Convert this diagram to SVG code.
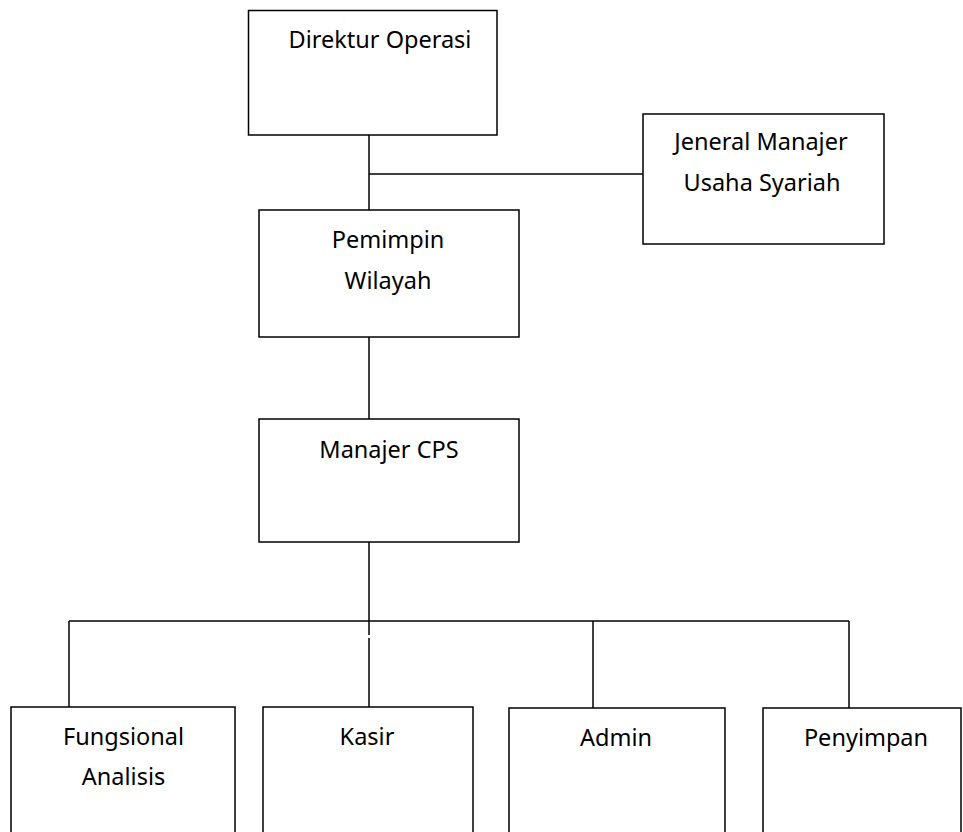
<svg xmlns="http://www.w3.org/2000/svg" width="963" height="832" viewBox="0 0 963 832">
<style>
.box{fill:#fff;stroke:#000;stroke-width:1.5}
.ln{stroke:#000;stroke-width:1.5;fill:none}
text{font-family:"Noto Sans","Open Sans",sans-serif;font-size:23.5px;fill:#000;text-anchor:middle}
</style>
<rect width="963" height="832" fill="#fff"/>
<g id="connectors">
<line class="ln" x1="369" y1="135" x2="369" y2="210"/>
<line class="ln" x1="369" y1="174" x2="643" y2="174"/>
<line class="ln" x1="369" y1="337" x2="369" y2="419"/>
<line class="ln" x1="369" y1="542" x2="369" y2="635"/>
<line class="ln" x1="369" y1="638" x2="369" y2="707"/>
<line class="ln" x1="69" y1="621" x2="849" y2="621"/>
<line class="ln" x1="69" y1="621" x2="69" y2="707"/>
<line class="ln" x1="593" y1="621" x2="593" y2="708"/>
<line class="ln" x1="849" y1="621" x2="849" y2="708"/>
</g>
<g id="direktur-operasi">
<rect class="box" x="248.5" y="10.5" width="248.5" height="124.5"/>
<text x="380" y="48">Direktur Operasi</text>
</g>
<g id="jeneral-manajer">
<rect class="box" x="643" y="114" width="241" height="130"/>
<text x="761" y="150">Jeneral Manajer</text>
<text x="762" y="191">Usaha Syariah</text>
</g>
<g id="pemimpin-wilayah">
<rect class="box" x="259" y="210" width="260" height="127"/>
<text x="388" y="248">Pemimpin</text>
<text x="388" y="289">Wilayah</text>
</g>
<g id="manajer-cps">
<rect class="box" x="259" y="419" width="260" height="123"/>
<text x="389" y="458">Manajer CPS</text>
</g>
<g id="fungsional-analisis">
<rect class="box" x="11" y="707" width="224" height="140"/>
<text x="123.5" y="745">Fungsional</text>
<text x="123.5" y="785">Analisis</text>
</g>
<g id="kasir">
<rect class="box" x="263" y="707" width="210" height="140"/>
<text x="367" y="745">Kasir</text>
</g>
<g id="admin">
<rect class="box" x="509" y="708" width="216" height="140"/>
<text x="616" y="746">Admin</text>
</g>
<g id="penyimpan">
<rect class="box" x="763" y="708" width="198" height="140"/>
<text x="866" y="746">Penyimpan</text>
</g>
</svg>
